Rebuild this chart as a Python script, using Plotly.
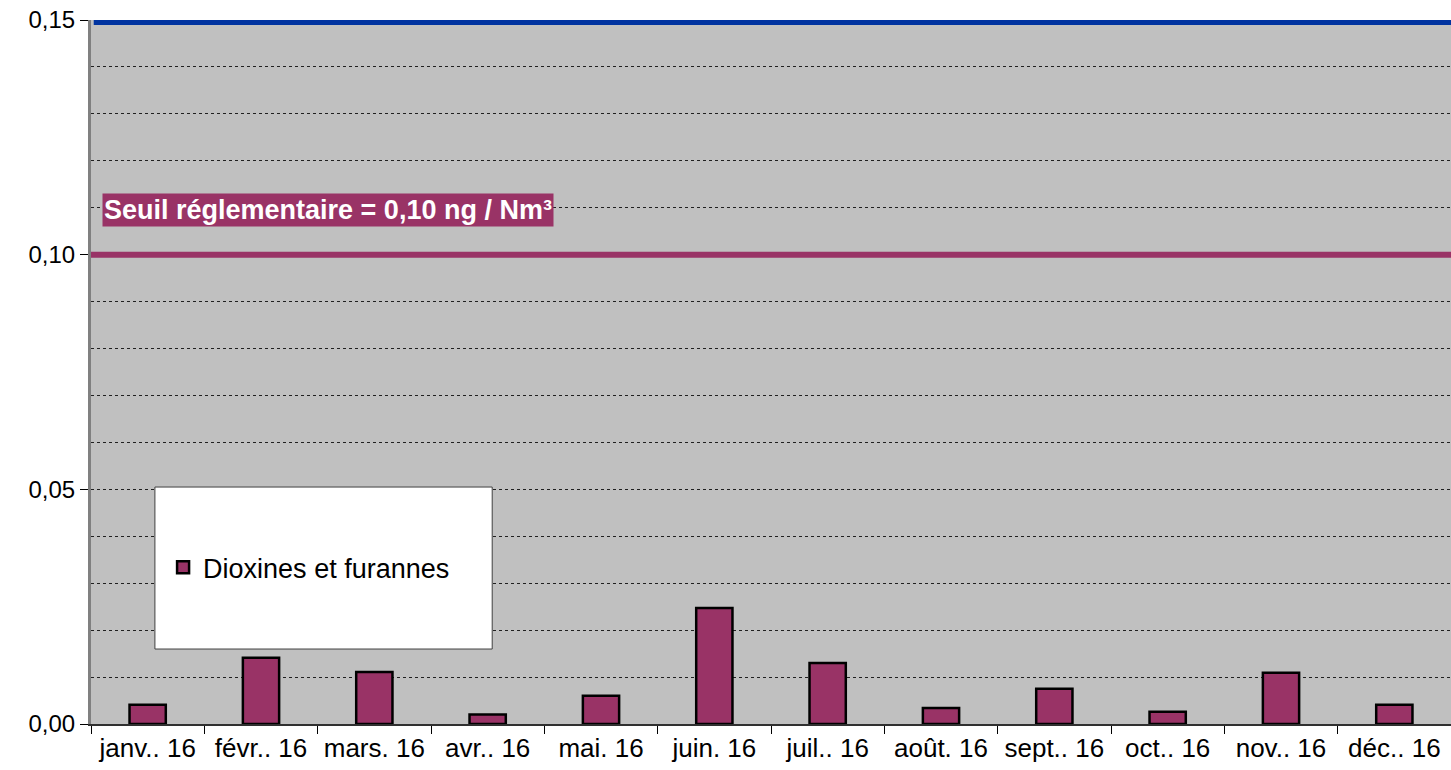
import plotly.graph_objects as go

MONTHS = ["janv.. 16", "févr.. 16", "mars. 16", "avr.. 16", "mai. 16", "juin. 16",
          "juil.. 16", "août. 16", "sept.. 16", "oct.. 16", "nov.. 16", "déc.. 16"]
DIOXINES = [0.0041, 0.0141, 0.0111, 0.0020, 0.0060, 0.0247,
            0.0130, 0.0034, 0.0075, 0.0026, 0.0109, 0.0041]
SEUIL = 0.10
TOP = 0.15

PLUM = "#993366"
BLUE = "#0033A0"
FONT = "Arial, Liberation Sans, sans-serif"

fig = go.Figure(
    go.Bar(
        x=MONTHS,
        y=DIOXINES,
        name="Dioxines et furannes",
        marker={"color": PLUM, "line": {"color": "black", "width": 2.5}},
    )
)

fig.update_layout(
    width=1451,
    height=770,
    separators=", ",
    paper_bgcolor="white",
    plot_bgcolor="#C0C0C0",
    font={"family": FONT, "color": "black", "size": 24},
    margin={"l": 91, "r": 0, "t": 20, "b": 46},
    bargap=0.68,
    showlegend=True,
    legend={
        "x": 0.053, "y": 0.222, "xanchor": "left", "yanchor": "middle",
        "bgcolor": "rgba(0,0,0,0)", "font": {"size": 27},
        "itemwidth": 30,
    },
)

fig.update_xaxes(
    showgrid=False,
    showline=True, linecolor="#303030", linewidth=2,
    ticks="outside", tickson="boundaries", ticklen=8, tickcolor="black",
    tickfont={"size": 26},
)
fig.update_yaxes(
    range=[0, TOP],
    dtick=0.05,
    tickformat=".2f",
    showline=True, linecolor="#808080", linewidth=3,
    ticks="outside", ticklen=8, tickcolor="black",
    gridcolor="#202020", griddash="dot", gridwidth=1,
    minor={"dtick": 0.01, "showgrid": True, "gridcolor": "#202020", "griddash": "dot", "gridwidth": 1},
    zeroline=False,
    tickfont={"size": 24},
)

# legend frame
fig.add_shape(type="rect", xref="paper", yref="paper", x0=0.047, x1=0.295, y0=0.1065, y1=0.3366,
              fillcolor="white", line={"color": "#404040", "width": 1}, layer="above")

# threshold lines
fig.add_shape(type="line", xref="paper", yref="y", x0=0, x1=1, y0=SEUIL, y1=SEUIL,
              line={"color": PLUM, "width": 6}, layer="above")
fig.add_shape(type="line", xref="paper", yref="y", x0=0.002, x1=1, y0=TOP, y1=TOP,
              line={"color": BLUE, "width": 10}, layer="above")

fig.add_annotation(
    xref="paper", yref="y", x=0.008, y=0.1095, xanchor="left", yanchor="middle",
    text="<b>Seuil réglementaire = 0,10 ng / Nm³</b>", showarrow=False,
    font={"size": 27, "color": "white"}, bgcolor=PLUM, borderpad=1,
)

fig.write_html("out.html", config={"displayModeBar": False},
               post_script="document.body.style.margin='0';")
